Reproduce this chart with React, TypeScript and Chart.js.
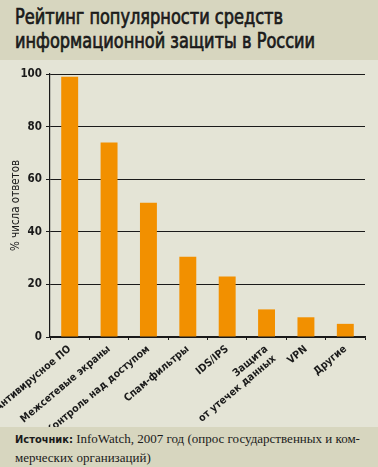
import React, { useEffect, useLayoutEffect, useRef } from "react";
import { Chart, registerables } from "chart.js";

Chart.register(...registerables);

const titleLines = ["Рейтинг популярности средств", "информационной защиты в России"];
const categories: (string | string[])[] = [
  "Антивирусное ПО",
  "Межсетевые экраны",
  "Контроль над доступом",
  "Спам-фильтры",
  "IDS/IPS",
  ["Защита", "от утечек данных"],
  "VPN",
  "Другие",
];
const values = [99, 74, 51, 30.5, 23, 10.5, 7.5, 5];
const yTitle = "% числа ответов";
const sourceLabel = "Источник:";
const sourceLine1 = " InfoWatch, 2007 год (опрос государственных и ком-";
const sourceLine2 = "мерческих организаций)";

const BAND = "#d7d6bf";
const PLOT_BG = "#e4e4d6";
const INK = "#1a1a1a";
const BAR = "#f29000";
const SANS = "'DejaVu Sans', sans-serif";
const TITLE_WIDTH = 268;

export default function App() {
  const ref = useRef<HTMLCanvasElement | null>(null);
  const titleRef = useRef<HTMLDivElement | null>(null);
  const line1Ref = useRef<HTMLSpanElement | null>(null);

  useLayoutEffect(() => {
    if (titleRef.current && line1Ref.current) {
      const w = line1Ref.current.getBoundingClientRect().width;
      if (w > 0) titleRef.current.style.transform = `scaleX(${TITLE_WIDTH / w})`;
    }
  }, []);

  useEffect(() => {
    if (!ref.current) return;
    const chart = new Chart(ref.current, {
      type: "bar",
      data: {
        labels: categories,
        datasets: [
          {
            data: values,
            backgroundColor: BAR,
            barPercentage: 0.43,
            categoryPercentage: 1,
          },
        ],
      },
      options: {
        animation: false,
        responsive: false,
        devicePixelRatio: 1,
        layout: { padding: { top: 14, right: 13, left: 0, bottom: 0 } },
        plugins: { legend: { display: false }, tooltip: { enabled: false } },
        scales: {
          x: {
            grid: {
              drawOnChartArea: false,
              drawTicks: true,
              tickLength: 3,
              color: INK,
              lineWidth: 1,
            },
            border: { color: INK, width: 1.2 },
            ticks: {
              color: INK,
              minRotation: 40,
              maxRotation: 40,
              autoSkip: false,
              padding: 3,
              font: { family: SANS, size: 10.5, weight: "bold condensed" as any },
            },
            afterFit: (s: any) => {
              s.height = 90;
              s.paddingLeft = 0;
              s.paddingRight = 0;
            },
          },
          y: {
            min: 0,
            max: 100,
            ticks: {
              stepSize: 20,
              color: INK,
              padding: 4,
              font: { family: SANS, size: 11.5, weight: "bold condensed" as any },
            },
            grid: { color: INK, lineWidth: 1, tickLength: 4 },
            border: { color: INK, width: 1.2 },
            title: {
              display: true,
              text: yTitle,
              color: INK,
              padding: { top: 9, bottom: 0 },
              font: { family: SANS, size: 11.5, weight: "normal condensed" as any },
            },
            afterFit: (s: any) => {
              s.width = 50;
            },
          },
        },
      },
    });
    return () => chart.destroy();
  }, []);

  return (
    <div
      style={{
        position: "absolute",
        left: 0,
        top: 0,
        width: 378,
        height: 467,
        background: PLOT_BG,
        overflow: "hidden",
      }}
    >
      <div
        style={{
          position: "absolute",
          left: 0,
          top: 0,
          width: 378,
          height: 60,
          background: BAND,
        }}
      >
        <div
          ref={titleRef}
          style={{
            position: "absolute",
            left: 15,
            top: 5,
            fontFamily: SANS,
            fontStretch: "condensed",
            fontSize: 21,
            fontWeight: "normal",
            WebkitTextStroke: "0.7px " + INK,
            lineHeight: "24px",
            color: INK,
            whiteSpace: "nowrap",
            transformOrigin: "0 0",
          }}
        >
          <div>
            <span ref={line1Ref}>{titleLines[0]}</span>
          </div>
          <div>{titleLines[1]}</div>
        </div>
      </div>
      <div style={{ position: "absolute", left: 0, top: 60, width: 378, height: 367 }}>
        <canvas ref={ref} width={378} height={367} style={{ display: "block" }} />
      </div>
      <div
        style={{
          position: "absolute",
          left: 0,
          top: 427,
          width: 378,
          height: 40,
          background: BAND,
        }}
      >
        <div
          style={{
            position: "absolute",
            left: 15,
            top: 3,
            fontFamily: "'Liberation Serif', serif",
            fontSize: 13,
            lineHeight: "18px",
            color: INK,
            whiteSpace: "nowrap",
          }}
        >
          <div>
            <span style={{ fontFamily: SANS, fontStretch: "condensed", fontWeight: "bold", fontSize: 11 }}>
              {sourceLabel}
            </span>
            {sourceLine1}
          </div>
          <div>{sourceLine2}</div>
        </div>
      </div>
    </div>
  );
}
